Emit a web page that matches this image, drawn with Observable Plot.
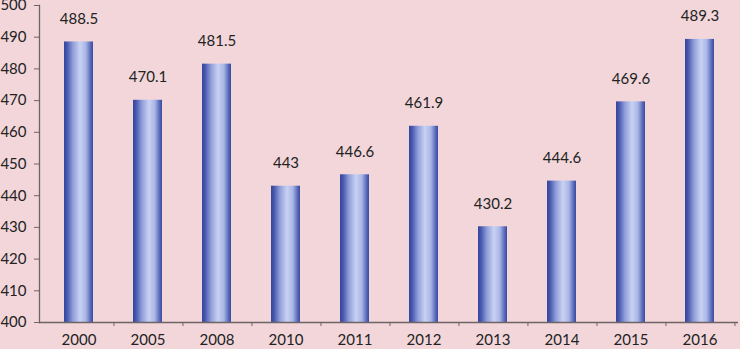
<!DOCTYPE html>
<html>
<head>
<meta charset="utf-8">
<script src="https://cdn.jsdelivr.net/npm/d3@7"></script>
<script src="https://cdn.jsdelivr.net/npm/@observablehq/plot@0.6"></script>
<style>
  html, body { margin: 0; padding: 0; background: #f2d6da; }
  #chart svg { display: block; }
</style>
</head>
<body>
<div id="chart"></div>
<script>
const years = ["2000", "2005", "2008", "2010", "2011", "2012", "2013", "2014", "2015", "2016"];
const values = [488.5, 470.1, 481.5, 443, 446.6, 461.9, 430.2, 444.6, 469.6, 489.3];
const yTicks = [400, 410, 420, 430, 440, 450, 460, 470, 480, 490, 500];

const data = years.map((year, i) => ({year, value: values[i]}));

const W = 740, H = 349;
const mL = 39, mR = 2;
const step = (W - mL - mR) / years.length;

const font = "Lato, 'Open Sans', sans-serif";
const axisColor = "#6e6466";
const fs = 15;

const chart = Plot.plot({
  width: W,
  height: H,
  marginTop: 5,
  marginBottom: 27,
  marginLeft: mL,
  marginRight: mR,
  style: {background: "#f2d6da", fontFamily: font, fontSize: fs + "px", color: "#222"},
  x: {domain: years, paddingInner: 0.58, paddingOuter: 0.29},
  y: {domain: [400, 500]},
  marks: [
    Plot.barY(data, {x: "year", y1: 400, y2: "value", fill: "url(#barGrad)"}),
    Plot.text(data, {x: "year", y: "value", text: d => String(d.value), dy: -23, fill: "#222", fontSize: fs}),
    Plot.ruleY([400], {stroke: axisColor, strokeWidth: 1.3}),
    Plot.axisY({ticks: yTicks, tickSize: 5, tickPadding: 8, stroke: axisColor, fill: "#222", fontSize: fs, label: null}),
    Plot.axisX({tickSize: 0, tickPadding: 12, fill: "#222", fontSize: fs, label: null}),
    Plot.axisX({tickSize: 4, text: null, dx: step / 2, stroke: axisColor, label: null}),
    Plot.frame({anchor: "left", stroke: axisColor, strokeWidth: 1.3})
  ]
});

const ns = "http://www.w3.org/2000/svg";
const defs = document.createElementNS(ns, "defs");
const grad = document.createElementNS(ns, "linearGradient");
grad.setAttribute("id", "barGrad");
grad.setAttribute("x1", "0"); grad.setAttribute("x2", "1");
grad.setAttribute("y1", "0"); grad.setAttribute("y2", "0");
[[0, "#34459b"], [0.1, "#4656ac"], [0.3, "#8e9cd8"], [0.55, "#c9d2f2"], [0.75, "#aab6e6"], [0.92, "#5667b8"], [1, "#3a4b9f"]]
  .forEach(([o, c]) => {
    const s = document.createElementNS(ns, "stop");
    s.setAttribute("offset", o);
    s.setAttribute("stop-color", c);
    grad.appendChild(s);
  });
defs.appendChild(grad);
chart.insertBefore(defs, chart.firstChild);

document.getElementById("chart").appendChild(chart);
</script>
</body>
</html>
